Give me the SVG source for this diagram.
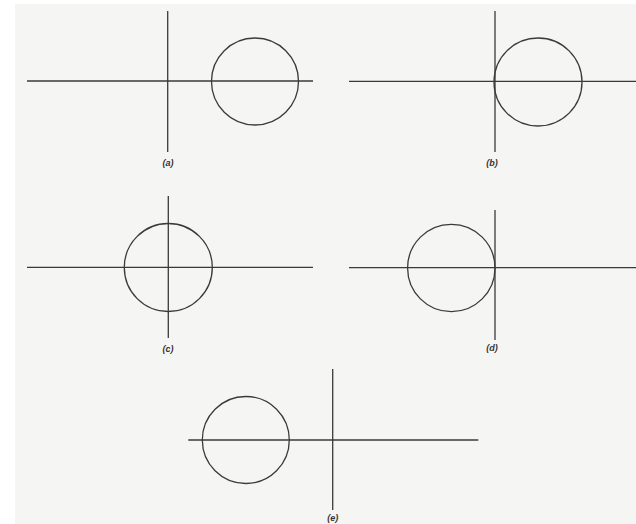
<svg xmlns="http://www.w3.org/2000/svg" width="636" height="524" viewBox="0 0 636 524">
<style>
.ln{stroke:#3a3a3a;stroke-width:1.3;fill:none}
.lb{font-family:"Liberation Sans",Arial,sans-serif;font-size:9px;font-style:italic;font-weight:bold;fill:#333;text-anchor:middle}
</style>
<rect x="0" y="0" width="636" height="524" fill="#ffffff"/>
<rect x="15" y="4" width="621" height="520" fill="#f5f5f4"/>
<g id="panel-a">
<line class="ln" x1="167.7" y1="11" x2="167.7" y2="152"/>
<line class="ln" x1="27" y1="81" x2="313" y2="81"/>
<circle class="ln" cx="255" cy="81.5" r="43.5"/>
<text class="lb" x="168" y="166">(a)</text>
</g>
<g id="panel-b">
<line class="ln" x1="495" y1="11" x2="495" y2="152"/>
<line class="ln" x1="349" y1="81.3" x2="636" y2="81.3"/>
<circle class="ln" cx="538" cy="82" r="44"/>
<text class="lb" x="492" y="166">(b)</text>
</g>
<g id="panel-c">
<line class="ln" x1="168.3" y1="196" x2="168.3" y2="338"/>
<line class="ln" x1="27" y1="267.3" x2="313" y2="267.3"/>
<circle class="ln" cx="168.3" cy="267.5" r="44"/>
<text class="lb" x="168" y="352">(c)</text>
</g>
<g id="panel-d">
<line class="ln" x1="495" y1="210" x2="495" y2="340"/>
<line class="ln" x1="349" y1="267.7" x2="636" y2="267.7"/>
<circle class="ln" cx="451.3" cy="268" r="43.7"/>
<text class="lb" x="492" y="351">(d)</text>
</g>
<g id="panel-e">
<line class="ln" x1="332.7" y1="369" x2="332.7" y2="510"/>
<line class="ln" x1="188.3" y1="440" x2="478.3" y2="440"/>
<circle class="ln" cx="245.8" cy="440" r="43.5"/>
<text class="lb" x="332.7" y="521">(e)</text>
</g>
<g id="connectors"></g>
</svg>
